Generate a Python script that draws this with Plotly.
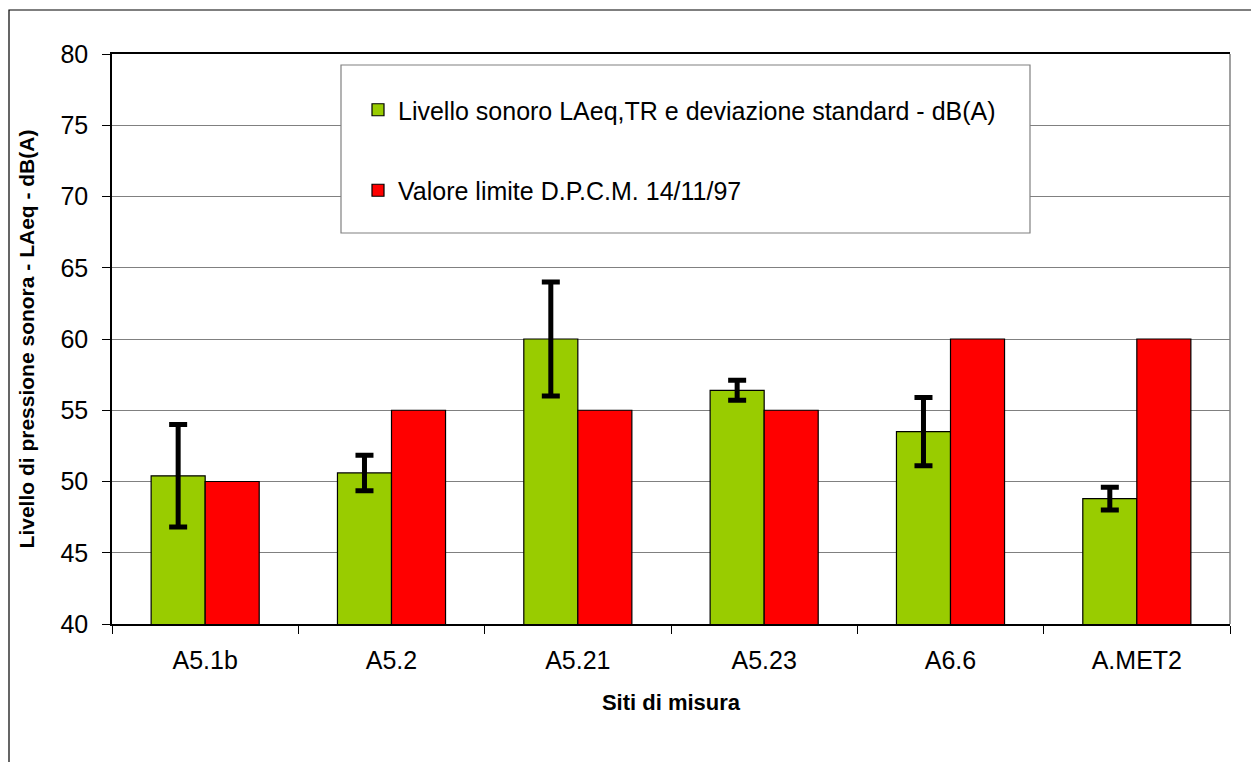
import plotly.graph_objects as go

categories = ["A5.1b", "A5.2", "A5.21", "A5.23", "A6.6", "A.MET2"]
laeq_values = [50.4, 50.6, 60.0, 56.4, 53.5, 48.8]
laeq_std = [3.6, 1.25, 4.0, 0.7, 2.4, 0.8]
limit_values = [50, 55, 55, 55, 60, 60]
y_ticks = [40, 45, 50, 55, 60, 65, 70, 75, 80]

name_laeq = "Livello sonoro LAeq,TR e deviazione standard - dB(A)"
name_limit = "Valore limite D.P.C.M. 14/11/97"

FONT = "Liberation Sans, Arial, sans-serif"

fig = go.Figure()
fig.add_trace(go.Bar(
    x=categories, y=laeq_values, name=name_laeq, legendgroup="a",
    marker=dict(color="#99CC00", line=dict(color="black", width=1.2)),
    error_y=dict(type="data", array=laeq_std, visible=True,
                 color="black", thickness=5, width=9),
))
fig.add_trace(go.Bar(
    x=categories, y=limit_values, name=name_limit, legendgroup="b",
    marker=dict(color="#FF0000", line=dict(color="black", width=1.2)),
))

# page has 8px body margin; figure coords = page coords - 8
OFF = 8
W, H = 1251, 754
ml, mr, mt, mb = 104, 29, 46, 138
pw, ph = W - ml - mr, H - mt - mb

def px_x(x_page):
    return (x_page - OFF - ml) / pw

def px_y(y_page):
    return (H - mb - (y_page - OFF)) / ph

fig.update_layout(
    width=W, height=H,
    margin=dict(l=ml, r=mr, t=mt, b=mb),
    paper_bgcolor="white", plot_bgcolor="white",
    barmode="group", bargap=0.42, bargroupgap=0,
    font=dict(family=FONT, color="black", size=24),
    showlegend=True,
    legend=dict(
        x=px_x(358), y=px_y(87), xanchor="left", yanchor="top",
        bgcolor="rgba(0,0,0,0)", borderwidth=0,
        font=dict(family=FONT, size=25, color="black"),
        tracegroupgap=45, traceorder="grouped",
    ),
    xaxis=dict(
        showline=True, linecolor="black", linewidth=1.5, mirror=True,
        ticks="outside", ticklen=8, tickcolor="black", tickson="boundaries",
        tickfont=dict(family=FONT, size=25, color="black"),
        ticklabelstandoff=13,
        title=dict(text="<b>Siti di misura</b>", font=dict(family=FONT, size=22, color="black"), standoff=22),
        showgrid=False,
    ),
    yaxis=dict(
        range=[40, 80], tickvals=y_ticks,
        showline=True, linecolor="black", linewidth=1.5,
        ticks="outside", ticklen=8, tickcolor="black",
        ticklabelstandoff=9,
        showgrid=True, gridcolor="#808080", gridwidth=1.2,
        tickfont=dict(family=FONT, size=25, color="black"),
        title=dict(text="<b>Livello di pressione sonora - LAeq - dB(A)</b>",
                   font=dict(family=FONT, size=21, color="black"), standoff=20),
        zeroline=False,
    ),
    shapes=[
        # outer chart frame
        dict(type="rect", xref="paper", yref="paper",
             x0=px_x(9), x1=px_x(1320), y0=px_y(820), y1=px_y(10),
             line=dict(color="black", width=1.2), fillcolor="rgba(0,0,0,0)", layer="below"),
        # right plot-area border
        dict(type="line", xref="paper", yref="paper", x0=1, x1=1, y0=0, y1=1,
             line=dict(color="#808080", width=1.5)),
        # legend box
        dict(type="rect", xref="paper", yref="paper",
             x0=px_x(341), x1=px_x(1030), y0=px_y(233), y1=px_y(65),
             line=dict(color="#808080", width=1.2), fillcolor="white", layer="above"),
    ],
)

fig.write_html("out.html")
